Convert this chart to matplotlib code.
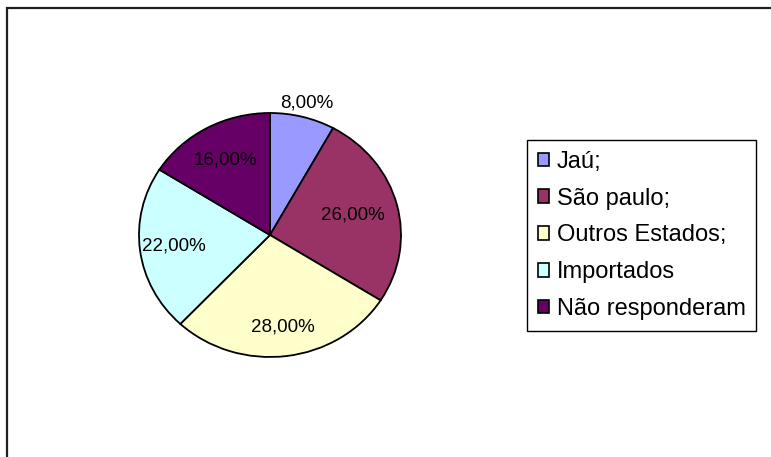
import numpy as np
import matplotlib.pyplot as plt
from matplotlib.patches import Rectangle

plt.rcParams['font.family'] = ['Liberation Sans', 'DejaVu Sans']

labels = ["Jaú;", "São paulo;", "Outros Estados;", "Importados", "Não responderam"]
values = [8, 26, 28, 22, 16]
pct_text = ["8,00%", "26,00%", "28,00%", "22,00%", "16,00%"]
colors = ['#9999FF', '#993366', '#FFFFCC', '#CCFFFF', '#660066']

W, H = 771, 457
fig = plt.figure(figsize=(W / 100, H / 100), dpi=100)

# outer chart frame (only top and left edges visible)
fig.patches.append(Rectangle((7 / W, -0.1), 1.2, 1 - 8 / H + 0.1,
                             transform=fig.transFigure, fill=False,
                             edgecolor='#202020', linewidth=1.6))

# pie axes, slightly elliptical like the original
cx, cy, rx, ry = 270, 235, 131, 122
m = 1.1
ax = fig.add_axes([(cx - rx * m) / W, 1 - (cy + ry * m) / H,
                   2 * rx * m / W, 2 * ry * m / H])
wedges, _ = ax.pie(values, colors=colors, startangle=90, counterclock=False,
                   wedgeprops=dict(edgecolor='black', linewidth=1.3))
ax.set_aspect('auto')
ax.set_xlim(-m, m)
ax.set_ylim(-m, m)
ax.axis('off')

dist = [1.12, 0.65, 0.76, 0.74, 0.70]
for w, t, d in zip(wedges, pct_text, dist):
    ang = np.deg2rad((w.theta1 + w.theta2) / 2)
    ax.text(d * np.cos(ang), d * np.sin(ang), t, ha='center', va='center',
            fontsize=13.5, color='black')

handles = [Rectangle((0, 0), 1, 1, facecolor=c, edgecolor='black', linewidth=1.2)
           for c in colors]
leg = fig.legend(handles, labels, loc='upper left',
                 bbox_to_anchor=(527 / W, 1 - 140 / H), borderaxespad=0,
                 fontsize=17, handlelength=0.5, handleheight=0.5,
                 handletextpad=0.3, labelspacing=0.63, borderpad=0.45,
                 fancybox=False, edgecolor='black', framealpha=1)
leg.get_frame().set_linewidth(1.0)

plt.savefig('out.png', dpi=100)
